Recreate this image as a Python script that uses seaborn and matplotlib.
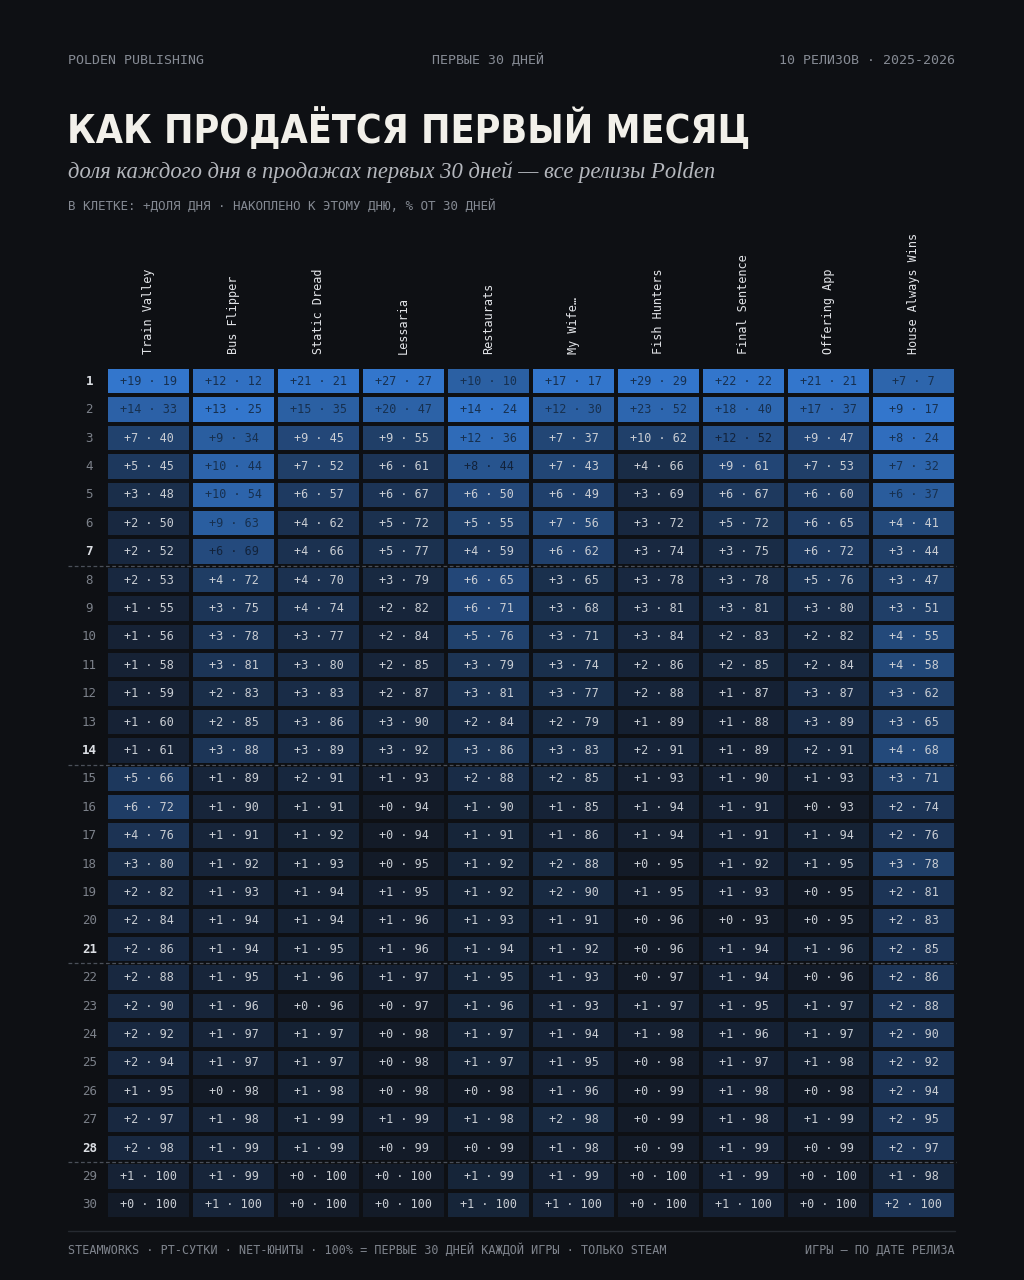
import numpy as np
import pandas as pd
import matplotlib.pyplot as plt
import seaborn as sns
from matplotlib.colors import LinearSegmentedColormap
from matplotlib.lines import Line2D

# games in release order
games = ['Train Valley', 'Bus Flipper', 'Static Dread', 'Lessaria', 'Restaurats',
         'My Wife…', 'Fish Hunters', 'Final Sentence', 'Offering App', 'House Always Wins']
days = list(range(1, 31))

# daily share of first-30-days sales, %
train_valley_d = [19,14,7,5,3,2,2,2,1,1,1,1,1,1,5,6,4,3,2,2,2,2,2,2,2,1,2,2,1,0]
bus_flipper_d = [12,13,9,10,10,9,6,4,3,3,3,2,2,3,1,1,1,1,1,1,1,1,1,1,1,0,1,1,1,1]
static_dread_d = [21,15,9,7,6,4,4,4,4,3,3,3,3,3,2,1,1,1,1,1,1,1,0,1,1,1,1,1,0,0]
lessaria_d = [27,20,9,6,6,5,5,3,2,2,2,2,3,3,1,0,0,0,1,1,1,1,0,0,0,0,1,0,0,0]
restaurats_d = [10,14,12,8,6,5,4,6,6,5,3,3,2,3,2,1,1,1,1,1,1,1,1,1,1,0,1,0,1,1]
my_wife_d = [17,12,7,7,6,7,6,3,3,3,3,3,2,3,2,1,1,2,2,1,1,1,1,1,1,1,2,1,1,1]
fish_hunters_d = [29,23,10,4,3,3,3,3,3,3,2,2,1,2,1,1,1,0,1,0,0,0,1,1,0,0,0,0,0,0]
final_sentence_d = [22,18,12,9,6,5,3,3,3,2,2,1,1,1,1,1,1,1,1,0,1,1,1,1,1,1,1,1,1,1]
offering_app_d = [21,17,9,7,6,6,6,5,3,2,2,3,3,2,1,0,1,1,0,0,1,0,1,1,1,0,1,0,0,0]
house_wins_d = [7,9,8,7,6,4,3,3,3,4,4,3,3,4,3,2,2,3,2,2,2,2,2,2,2,2,2,2,1,2]

# cumulative share up to that day, %
train_valley_c = [19,33,40,45,48,50,52,53,55,56,58,59,60,61,66,72,76,80,82,84,86,88,90,92,94,95,97,98,100,100]
bus_flipper_c = [12,25,34,44,54,63,69,72,75,78,81,83,85,88,89,90,91,92,93,94,94,95,96,97,97,98,98,99,99,100]
static_dread_c = [21,35,45,52,57,62,66,70,74,77,80,83,86,89,91,91,92,93,94,94,95,96,96,97,97,98,99,99,100,100]
lessaria_c = [27,47,55,61,67,72,77,79,82,84,85,87,90,92,93,94,94,95,95,96,96,97,97,98,98,98,99,99,100,100]
restaurats_c = [10,24,36,44,50,55,59,65,71,76,79,81,84,86,88,90,91,92,92,93,94,95,96,97,97,98,98,99,99,100]
my_wife_c = [17,30,37,43,49,56,62,65,68,71,74,77,79,83,85,85,86,88,90,91,92,93,93,94,95,96,98,98,99,100]
fish_hunters_c = [29,52,62,66,69,72,74,78,81,84,86,88,89,91,93,94,94,95,95,96,96,97,97,98,98,99,99,99,100,100]
final_sentence_c = [22,40,52,61,67,72,75,78,81,83,85,87,88,89,90,91,91,92,93,93,94,94,95,96,97,98,98,99,99,100]
offering_app_c = [21,37,47,53,60,65,72,76,80,82,84,87,89,91,93,93,94,95,95,95,96,96,97,97,98,98,99,99,100,100]
house_wins_c = [7,17,24,32,37,41,44,47,51,55,58,62,65,68,71,74,76,78,81,83,85,86,88,90,92,94,95,97,98,100]

daily = pd.DataFrame(dict(zip(games, [train_valley_d, bus_flipper_d, static_dread_d, lessaria_d,
                                      restaurats_d, my_wife_d, fish_hunters_d, final_sentence_d,
                                      offering_app_d, house_wins_d])), index=days)
cumul = pd.DataFrame(dict(zip(games, [train_valley_c, bus_flipper_c, static_dread_c, lessaria_c,
                                      restaurats_c, my_wife_c, fish_hunters_c, final_sentence_c,
                                      offering_app_c, house_wins_c])), index=days)

# colour = daily share relative to each game's best day
ratio = daily / daily.max()
labels = np.array([[f'+{d} · {c}' for d, c in zip(dr, cr)]
                   for dr, cr in zip(daily.values, cumul.values)])

bg = '#0e1014'
mono = ['DejaVu Sans Mono']
sns.set_style('dark', {'axes.facecolor': bg, 'figure.facecolor': bg})
plt.rcParams['font.family'] = ['DejaVu Sans']

cmap = LinearSegmentedColormap.from_list('pold', ['#131b28', '#3376cc'])

fig = plt.figure(figsize=(10.24, 12.8), dpi=100, facecolor=bg)
ax = fig.add_axes([106/1024, 1 - 1219/1280, 850/1024, 852/1280])

sns.heatmap(ratio ** 0.85, ax=ax, cmap=cmap, vmin=0, vmax=1, cbar=False,
            annot=labels, fmt='', linewidths=2.6, linecolor=bg,
            annot_kws={'fontsize': 8.5, 'family': mono})

# text colour: dark on bright cells, light on dark ones
for t, r in zip(ax.texts, ratio.values.ravel()):
    if r >= 0.6:
        t.set_color('#17304f')
    elif r >= 0.45:
        t.set_color('#12223a')
    else:
        t.set_color('#c9cdd3')

ax.xaxis.tick_top()
ax.set_xticklabels(games, rotation=90, fontsize=8.5, family=mono, color='#e2e4e8')
ax.tick_params(axis='x', length=0, pad=9, top=True, bottom=False, labeltop=True, labelbottom=False)
ax.set_yticklabels(days, rotation=0, fontsize=9, family=mono)
ax.tick_params(axis='y', length=0, pad=12)
for lab in ax.get_yticklabels():
    lab.set_ha('center')
    if lab.get_text() in ('1', '7', '14', '21', '28'):
        lab.set_color('#dcdfe4')
        lab.set_fontweight('bold')
    else:
        lab.set_color('#7c818a')
ax.set_xlabel('')
ax.set_ylabel('')
for s in ax.spines.values():
    s.set_visible(False)

# week separators
for w in [7, 14, 21, 28]:
    ax.axhline(w, xmin=-0.045, xmax=1.0, color='#4b505a', lw=0.9,
               ls=(0, (3, 2)), clip_on=False)

# header
fig.text(68/1024, 1 - 60/1280, 'POLDEN PUBLISHING', family=mono, fontsize=9.5,
         color='#868b94', va='center')
fig.text(488/1024, 1 - 60/1280, 'ПЕРВЫЕ 30 ДНЕЙ', family=mono, fontsize=9.5,
         color='#868b94', va='center', ha='center')
fig.text(955/1024, 1 - 60/1280, '10 РЕЛИЗОВ · 2025-2026', family=mono, fontsize=9.5,
         color='#868b94', va='center', ha='right')
title = fig.text(67/1024, 1 - 130/1280, 'КАК ПРОДАЁТСЯ ПЕРВЫЙ МЕСЯЦ',
                 family=['DejaVu Sans'], fontstretch='condensed', fontweight='bold',
                 fontsize=36, color='#f2f0ea', va='center')
sub = fig.text(68/1024, 1 - 172/1280, 'доля каждого дня в продажах первых 30 дней — все релизы Polden',
               family=['Liberation Serif', 'DejaVu Serif'], style='italic', fontsize=17,
               color='#b4b7bd', va='center')
fig.text(68/1024, 1 - 206/1280, 'В КЛЕТКЕ: +ДОЛЯ ДНЯ · НАКОПЛЕНО К ЭТОМУ ДНЮ, % ОТ 30 ДНЕЙ',
         family=mono, fontsize=9, color='#858a93', va='center')

# fit title and subtitle to the reference widths
fig.canvas.draw()
r = fig.canvas.get_renderer()
title.set_fontsize(36 * 684 / title.get_window_extent(r).width)
sub.set_fontsize(17 * 648 / sub.get_window_extent(r).width)

# footer
fig.add_artist(Line2D([68/1024, 955/1024], [1 - 1231/1280] * 2, color='#262a31', lw=1))
fig.text(68/1024, 1 - 1250/1280,
         'STEAMWORKS · PT-СУТКИ · NET-ЮНИТЫ · 100% = ПЕРВЫЕ 30 ДНЕЙ КАЖДОЙ ИГРЫ · ТОЛЬКО STEAM',
         family=mono, fontsize=8.5, color='#7f848d', va='center')
fig.text(955/1024, 1 - 1250/1280, 'ИГРЫ — ПО ДАТЕ РЕЛИЗА', family=mono, fontsize=8.5,
         color='#7f848d', va='center', ha='right')

fig.savefig('out.png', dpi=100, facecolor=bg)
